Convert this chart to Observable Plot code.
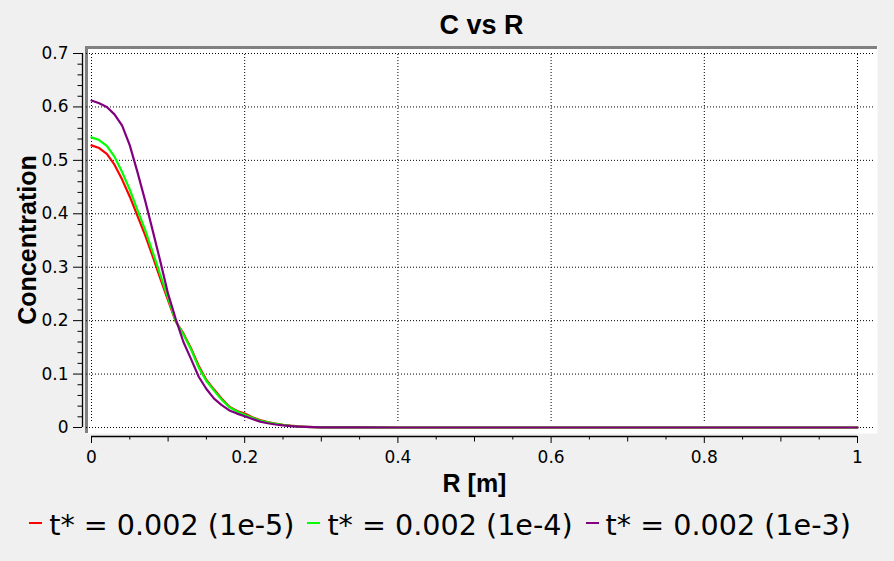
<!DOCTYPE html>
<html>
<head>
<meta charset="utf-8">
<script src="https://cdn.jsdelivr.net/npm/d3@7"></script>
<script src="https://cdn.jsdelivr.net/npm/@observablehq/plot@0.6"></script>
<style>
  html, body { margin: 0; padding: 0; background: #f0f0f0; width: 894px; height: 561px; overflow: hidden; }
  #chart svg { display: block; }
  #legend { display: flex; justify-content: center; gap: 13px; font-family: "DejaVu Sans", sans-serif; font-size: 28.6px;
            line-height: 36px; padding-top: 2px; padding-right: 14px; color: #000; white-space: nowrap; }
  .mk { display: inline-block; width: 13px; height: 2.5px; vertical-align: 11px; margin-right: 7px; }
</style>
</head>
<body>
<div id="chart"></div>
<div id="legend"></div>
<script>
// ---- data ----
const R = [0, 0.01, 0.02, 0.03, 0.04, 0.05, 0.06, 0.07, 0.08, 0.09,
           0.10, 0.11, 0.12, 0.13, 0.14, 0.15, 0.16, 0.17, 0.18, 0.19,
           0.20, 0.21, 0.22, 0.23, 0.24, 0.25, 0.26, 0.27, 0.28, 0.29,
           0.30, 0.35, 0.40, 0.50, 0.60, 0.70, 0.80, 0.90, 1.00];

const C_1e5 = [0.528, 0.523, 0.512, 0.492, 0.464, 0.432, 0.396, 0.360, 0.320, 0.278,
               0.238, 0.198, 0.176, 0.148, 0.115, 0.089, 0.071, 0.054, 0.039, 0.031,
               0.026, 0.019, 0.014, 0.010, 0.0075, 0.0052, 0.0034, 0.0021, 0.0013, 0.0008,
               0.0004, 0.0001, 0, 0, 0, 0, 0, 0, 0];

const C_1e4 = [0.543, 0.538, 0.527, 0.507, 0.478, 0.445, 0.407, 0.370, 0.328, 0.285,
               0.242, 0.199, 0.174, 0.146, 0.112, 0.087, 0.069, 0.052, 0.038, 0.030,
               0.024, 0.018, 0.013, 0.0095, 0.0070, 0.0048, 0.0031, 0.0019, 0.0011, 0.0006,
               0.0003, 0.0001, 0, 0, 0, 0, 0, 0, 0];

const C_1e3 = [0.612, 0.607, 0.600, 0.586, 0.565, 0.528, 0.478, 0.425, 0.368, 0.310,
               0.250, 0.203, 0.160, 0.128, 0.095, 0.072, 0.054, 0.042, 0.032, 0.026,
               0.021, 0.016, 0.011, 0.008, 0.0056, 0.0040, 0.0027, 0.0017, 0.0010, 0.0006,
               0.0003, 0.0001, 0, 0, 0, 0, 0, 0, 0];

const seriesNames = ["t* = 0.002 (1e-5)", "t* = 0.002 (1e-4)", "t* = 0.002 (1e-3)"];
const seriesColors = ["#ff0000", "#00ff00", "#800080"];

const xMajor = [0, 0.2, 0.4, 0.6, 0.8, 1];
const xMedium = [0.1, 0.3, 0.5, 0.7, 0.9];
const xMinor = [0.05, 0.15, 0.25, 0.35, 0.45, 0.55, 0.65, 0.75, 0.85, 0.95];
const yMajor = [0, 0.1, 0.2, 0.3, 0.4, 0.5, 0.6, 0.7];
const yMinor = [0.02, 0.04, 0.06, 0.08, 0.12, 0.14, 0.16, 0.18, 0.22, 0.24, 0.26, 0.28,
                0.32, 0.34, 0.36, 0.38, 0.42, 0.44, 0.46, 0.48, 0.52, 0.54, 0.56, 0.58,
                0.62, 0.64, 0.66, 0.68];

const titleText = "C vs R";
const xLabel = "R [m]";
const yLabel = "Concentration";

// ---- build tables ----
const tables = [C_1e5, C_1e4, C_1e3].map((c, i) =>
  R.map((r, j) => ({r, c: c[j], series: seriesNames[i]})));

// sunken frame border (left & top edges of plot canvas)
const border = (index, scales, values, dims) => {
  const l = dims.marginLeft, t = dims.marginTop;
  const r = dims.width - dims.marginRight, b = dims.height - dims.marginBottom;
  const p = document.createElementNS("http://www.w3.org/2000/svg", "path");
  p.setAttribute("d", `M${l + 1.5},${b}V${t + 1.5}H${r}`);
  p.setAttribute("fill", "none");
  p.setAttribute("stroke", "#808080");
  p.setAttribute("stroke-width", "3");
  return p;
};

const boldFont = {fontFamily: "Liberation Sans", fontWeight: "bold", fill: "black"};

const chart = Plot.plot({
  width: 894,
  height: 505,
  marginLeft: 85,
  marginRight: 17,
  marginTop: 46,
  marginBottom: 72,
  x: {domain: [0, 1], insetLeft: 6, insetRight: 20},
  y: {domain: [0, 0.7], insetTop: 7, insetBottom: 6},
  style: {fontFamily: "DejaVu Sans", fontSize: "17px", color: "black", background: "transparent", overflow: "visible"},
  marks: [
    Plot.frame({fill: "white", stroke: null}),
    border,
    // dotted grid
    Plot.ruleX(xMajor, {y1: 0, y2: 0.7, insetTop: -6, stroke: "black", strokeWidth: 1, strokeDasharray: "1,2"}),
    Plot.ruleY(yMajor, {x1: 0, x2: 1, insetLeft: -5, insetRight: -16, stroke: "black", strokeWidth: 1, strokeDasharray: "1,2"}),
    // axis lines
    Plot.ruleY([0], {x1: 0, x2: 1, dy: 9, stroke: "black", strokeWidth: 1.3}),
    Plot.ruleX([0], {y1: 0, y2: 0.7, dx: -9, stroke: "black", strokeWidth: 1.3}),
    // x ticks
    Plot.axisX(xMinor, {anchor: "bottom", tickSize: 3.5, dy: 3, tickFormat: () => "", label: null}),
    Plot.axisX(xMedium, {anchor: "bottom", tickSize: 5.5, dy: 3, tickFormat: () => "", label: null}),
    Plot.axisX(xMajor, {anchor: "bottom", tickSize: 7, dy: 3, tickPadding: 7, tickFormat: d => String(d), label: null}),
    // y ticks
    Plot.axisY(yMinor, {anchor: "left", tickSize: 4.5, dx: -3, tickFormat: () => "", label: null}),
    Plot.axisY(yMajor, {anchor: "left", tickSize: 9, dx: -3, tickPadding: 5, tickFormat: d => String(d), label: null}),
    // curves
    Plot.line(tables[0], {x: "r", y: "c", stroke: seriesColors[0], strokeWidth: 2.2}),
    Plot.line(tables[1], {x: "r", y: "c", stroke: seriesColors[1], strokeWidth: 2.2}),
    Plot.line(tables[2], {x: "r", y: "c", stroke: seriesColors[2], strokeWidth: 2.2}),
    // title & axis labels
    Plot.text([titleText], {text: d => d, frameAnchor: "top", dy: -13, lineAnchor: "bottom", fontSize: 27, ...boldFont}),
    Plot.text([xLabel], {text: d => d, frameAnchor: "bottom", dx: -7, dy: 58, lineAnchor: "bottom", fontSize: 25, ...boldFont}),
    Plot.text([yLabel], {text: d => d, frameAnchor: "left", textAnchor: "middle", rotate: -90, dx: -50, lineAnchor: "bottom", fontSize: 25, ...boldFont})
  ]
});
document.getElementById("chart").appendChild(chart);

// legend
const legend = document.getElementById("legend");
seriesNames.forEach((name, i) => {
  const item = document.createElement("span");
  const mk = document.createElement("span");
  mk.className = "mk";
  mk.style.background = seriesColors[i];
  item.appendChild(mk);
  item.appendChild(document.createTextNode(name));
  legend.appendChild(item);
});
</script>
</body>
</html>
